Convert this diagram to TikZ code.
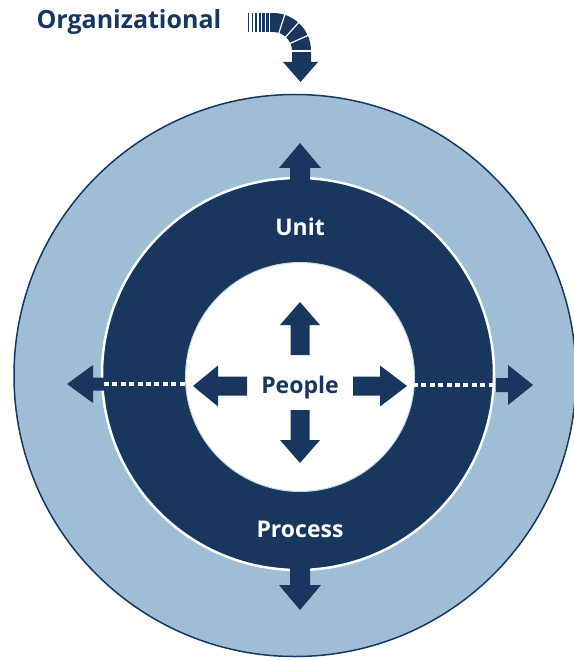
\documentclass[tikz,border=0pt]{standalone}
\usepackage{fontspec}
\setmainfont{Open Sans}
\usetikzlibrary{calc}
\definecolor{navy}{RGB}{24,54,94}
\definecolor{paleblue}{RGB}{160,189,214}
\def\blockarrow[#1](#2)(#3:#4:#5:#6:#7){\fill[#1,shift={(#2)},rotate=#3] (0,{-#6}) -- (#4,{-#6}) -- (#4,{-#7}) -- ({#4+#5},0) -- (#4,#7) -- (#4,#6) -- (0,#6) -- cycle;}
\tikzset{label text/.style={font=\fontsize{23}{27}\selectfont\bfseries, anchor=base}}

\begin{document}
\begin{tikzpicture}[x=1pt,y=-1pt]
			%%%%% START %%%%%
			\useasboundingbox (0,0) rectangle (573,660);
			
			\draw[fill=paleblue, draw=navy, line width=1.5pt] (295,375.5) circle (281pt);
			\draw[fill=navy, draw=white, line width=2.5pt] (298,374) circle (196pt);
			\draw[fill=white, draw=paleblue!60, line width=1pt] (300,377) circle (114.5pt);
			
			\draw[white, line width=4pt, dash pattern=on 5pt off 3.4pt] (104,384) -- (187,384);
			\draw[white, line width=4pt, dash pattern=on 5pt off 3.4pt] (413,385) -- (496,385);
			
			\blockarrow[navy](300,192)(90:24:25:10:21);
			\blockarrow[navy](300,560)(270:25:25:10:21);
			\blockarrow[navy](104,384)(180:11:26:6.5:19);
			\blockarrow[navy](496,385)(0:12:25:7:20);
			
			\blockarrow[navy](300,355)(90:30:23:9.5:20);
			\blockarrow[navy](300,410)(270:30:23:9.5:20);
			\blockarrow[navy](247,386)(180:29:25:9.5:20.5);
			\blockarrow[navy](353,386)(0:27:27:9.5:20.5);
			
			\node[label text, text=white] (unit) at (300,235) {Unit};
			\node[label text, text=white] (process) at (300,537) {Process};
			\node[label text, text=navy] (people) at (300,393) {People};
			\node[label text, text=navy, anchor=base west, font=\fontsize{25}{29}\selectfont\bfseries] (org) at (33,29) {Organizational};
			
			\foreach \x/\w in {248/1.2,251.6/1.5,255.2/1.8,258.8/2.2,262.4/2.6,266/3,269.6/3.4}
				\fill[navy] (\x,13) rectangle ({\x+\w},32);
			\fill[navy] (273,13) arc[start angle=90, end angle=0, radius=38pt] -- (311,62) -- (292,62) -- (292,51) arc[start angle=0, end angle=90, radius=19pt] -- cycle;
			\fill[navy] (283,62) -- (318,62) -- (300.5,82) -- cycle;
			\foreach \a in {72,48,24}
				\draw[white, line width=1.2pt] ($(273,51)+(\a:18pt)$) -- ($(273,51)+(\a:39pt)$);
			\draw[white, line width=1.2pt] (291,51) -- (312,51);
			
			%%%%% END %%%%%
		\end{tikzpicture}
\end{document}
